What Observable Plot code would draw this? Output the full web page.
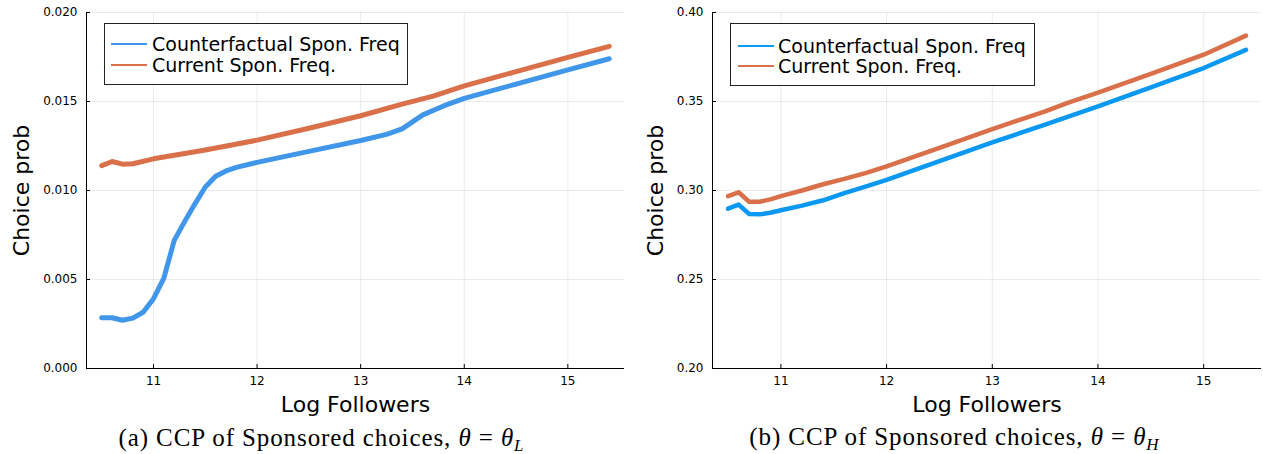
<!DOCTYPE html>
<html><head><meta charset="utf-8">
<script src="https://cdn.jsdelivr.net/npm/d3@7"></script>
<script src="https://cdn.jsdelivr.net/npm/@observablehq/plot@0.6"></script>
<style>
body{margin:0;background:#fff;}
#wrap{position:relative;width:1263px;height:454px;font-family:"DejaVu Sans",sans-serif;overflow:hidden;}
.panel{position:absolute;top:0;}
.legend{position:absolute;border:1px solid #222;background:#fff;box-sizing:border-box;}
.row{position:absolute;left:0;right:0;height:22px;line-height:22px;font-size:19px;color:#000;white-space:nowrap;}
.row .ln{position:absolute;height:2px;top:10px;}
.row .tx{position:absolute;}
.cap{position:absolute;font-family:"Liberation Serif",serif;font-size:25px;letter-spacing:0.9px;transform:translate(-50%,-50%);white-space:nowrap;color:#000;}
.cap sub{font-size:17px;vertical-align:-5px;line-height:0;letter-spacing:0;}
</style></head>
<body>
<div id="wrap">
  <div id="pa" class="panel" style="left:0"></div>
  <div id="pb" class="panel" style="left:632px"></div>
  <div class="legend" style="left:104px;top:23px;width:304px;height:62px;">
    <div class="row" style="top:9px"><span class="ln" style="left:6px;width:36px;background:#4097ea"></span><span class="tx" style="left:47px">Counterfactual Spon. Freq</span></div>
    <div class="row" style="top:30px"><span class="ln" style="left:6px;width:36px;background:#d9704a"></span><span class="tx" style="left:47px">Current Spon. Freq.</span></div>
  </div>
  <div class="legend" style="left:730px;top:23px;width:305px;height:63px;">
    <div class="row" style="top:11px"><span class="ln" style="left:7px;width:36px;background:#0a98f2"></span><span class="tx" style="left:47px">Counterfactual Spon. Freq</span></div>
    <div class="row" style="top:31px"><span class="ln" style="left:7px;width:36px;background:#d9704a"></span><span class="tx" style="left:47px">Current Spon. Freq.</span></div>
  </div>
  <div class="cap" style="left:321px;top:438px">(a) CCP of Sponsored choices, <i>θ</i> = <i>θ</i><sub><i>L</i></sub></div>
  <div class="cap" style="left:954px;top:437px">(b) CCP of Sponsored choices, <i>θ</i> = <i>θ</i><sub><i>H</i></sub></div>
</div>
<script>
// ---- Data ----
const xTicks = [11, 12, 13, 14, 15];
const xDomain = [10.353, 15.547];

// Panel (a): theta = theta_L
const aTicksY = [0, 0.005, 0.010, 0.015, 0.020];
const aCfX = [10.5,10.6,10.7,10.8,10.9,11.0,11.1,11.2,11.3,11.4,11.5,11.6,11.7,11.8,12.0,12.5,13.0,13.25,13.4,13.6,13.8,14.0,14.5,15.0,15.4];
const aCfY = [0.00285,0.00285,0.00271,0.00283,0.00316,0.00392,0.00508,0.00720,0.00825,0.00925,0.01020,0.01080,0.01110,0.01130,0.01158,0.01220,0.01281,0.01315,0.01346,0.01425,0.01475,0.01518,0.01598,0.01678,0.01740];
const aCurX = [10.5,10.6,10.7,10.8,11.0,11.5,12.0,12.5,13.0,13.4,13.7,14.0,14.5,15.0,15.4];
const aCurY = [0.01140,0.01163,0.01148,0.01150,0.01178,0.01228,0.01283,0.01350,0.01420,0.01485,0.01530,0.01588,0.01668,0.01748,0.01810];

// Panel (b): theta = theta_H
const bTicksY = [0.20, 0.25, 0.30, 0.35, 0.40];
const bCfX = [10.5,10.6,10.7,10.8,10.9,11.0,11.2,11.4,11.6,11.8,12.0,12.5,13.0,13.5,14.0,14.5,15.0,15.4];
const bCfY = [0.2898,0.2921,0.2868,0.2866,0.2875,0.2889,0.2915,0.2945,0.2985,0.3022,0.3060,0.3165,0.3270,0.3370,0.3473,0.3580,0.3688,0.3790];
const bCurX = [10.5,10.6,10.7,10.8,10.9,11.0,11.2,11.4,11.6,11.8,12.0,12.5,13.0,13.5,13.7,14.0,14.5,15.0,15.4];
const bCurY = [0.2968,0.2990,0.2937,0.2937,0.2950,0.2968,0.3000,0.3035,0.3065,0.3098,0.3135,0.3240,0.3345,0.3445,0.3490,0.3550,0.3655,0.3763,0.3870];

const cfA = "#4097ea", cfB = "#0a98f2", cur = "#d9704a";

function panel({cfX, cfY, curX, curY, yTicks, yDomain, yFmt, width, marginLeft, marginRight, ylabelDx, cfColor, lw}) {
  const height = 420, marginTop = 12, marginBottom = 52;
  const plotW = width - marginLeft - marginRight, plotH = height - marginTop - marginBottom;
  const cf = cfX.map((x, i) => ({x, y: cfY[i]}));
  const cu = curX.map((x, i) => ({x, y: curY[i]}));
  return Plot.plot({
    width, height, marginLeft, marginRight, marginTop, marginBottom,
    x: {domain: xDomain},
    y: {domain: yDomain},
    style: {fontFamily: "DejaVu Sans, sans-serif", fontSize: "12px", color: "#000", background: "transparent"},
    marks: [
      Plot.gridX(xTicks, {stroke: "#000", strokeOpacity: 0.08}),
      Plot.gridY(yTicks, {stroke: "#000", strokeOpacity: 0.08}),
      Plot.ruleX([xDomain[0]], {stroke: "#000"}),
      Plot.ruleY([yDomain[0]], {stroke: "#000"}),
      Plot.tickX(xTicks, {x: d => d, insetTop: plotH - 4, stroke: "#000"}),
      Plot.tickY(yTicks, {y: d => d, insetRight: plotW - 4, stroke: "#000"}),
      Plot.axisX({ticks: xTicks, tickSize: 0, tickPadding: 8, fontSize: 12, tickFormat: d3.format("d"), label: null}),
      Plot.axisY({ticks: yTicks, tickSize: 0, tickPadding: 9, fontSize: 12, tickFormat: d3.format(yFmt), label: null}),
      Plot.line(cf, {x: "x", y: "y", stroke: cfColor, strokeWidth: lw}),
      Plot.line(cu, {x: "x", y: "y", stroke: cur, strokeWidth: lw}),
      Plot.text(["Log Followers"], {text: d => d, frameAnchor: "bottom", lineAnchor: "middle", textAnchor: "middle", dy: 36, fontSize: 22}),
      Plot.text(["Choice prob"], {text: d => d, frameAnchor: "left", textAnchor: "middle", lineAnchor: "middle", dx: ylabelDx, rotate: -90, fontSize: 22})
    ]
  });
}

document.getElementById("pa").appendChild(panel({
  cfX: aCfX, cfY: aCfY, curX: aCurX, curY: aCurY, yTicks: aTicksY, yDomain: [0, 0.02], yFmt: ".3f",
  width: 632, marginLeft: 86, marginRight: 8, ylabelDx: -65, cfColor: cfA, lw: 5
}));
document.getElementById("pb").appendChild(panel({
  cfX: bCfX, cfY: bCfY, curX: bCurX, curY: bCurY, yTicks: bTicksY, yDomain: [0.2, 0.4], yFmt: ".2f",
  width: 631, marginLeft: 80, marginRight: 2, ylabelDx: -57, cfColor: cfB, lw: 4.5
}));
</script>
</body></html>
